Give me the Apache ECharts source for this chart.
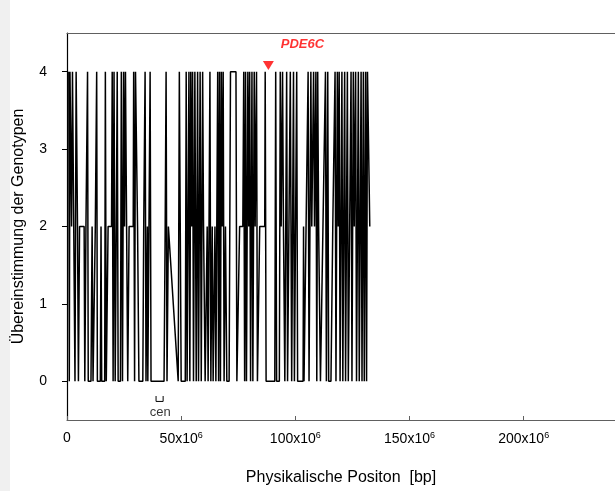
<!DOCTYPE html>
<html>
<head>
<meta charset="utf-8">
<script src="https://cdn.jsdelivr.net/npm/echarts@6/dist/echarts.min.js"></script>
<style>
  html, body { margin: 0; padding: 0; background: #fff; }
  #chart { width: 615px; height: 491px; }
</style>
</head>
<body>
<div id="chart"></div>
<script>
// Position in Mb (x10^6 bp) and agreement of genotypes
var posMb = [
  0.8, 1.0, 1.3, 1.8, 2.0, 2.4, 3.2, 3.5, 4.0, 4.4, 4.6, 5.0, 5.5, 7.5, 7.8, 8.3, 9.0, 9.3, 10.5, 11.0,
  11.4, 12.0, 12.4, 13.0, 13.3, 14.6, 14.9, 15.2, 16.5, 16.8, 17.2, 18.0, 19.5, 19.8, 20.2, 20.6, 21.1, 21.6, 22.0, 22.4,
  23.4, 23.8, 24.3, 24.8, 25.2, 25.6, 26.2, 26.6, 27.2, 29.0, 29.2, 29.6, 30.0, 30.6, 30.9, 31.5, 33.2, 33.6, 34.2, 34.6,
  35.2, 35.4, 36.4, 36.8, 37.5, 42.5, 43.0, 43.4, 43.8, 44.4, 45.0, 48.7, 49.2, 49.6, 50.0, 51.8, 52.2, 52.6, 53.0, 53.4,
  53.8, 54.2, 54.6, 55.0, 55.4, 56.0, 56.3, 56.6, 57.2, 57.6, 58.3, 58.8, 59.4, 59.8, 60.5, 61.4, 61.8, 62.6, 63.0, 63.6,
  64.0, 64.8, 65.2, 66.0, 66.4, 66.8, 67.2, 67.6, 68.0, 68.4, 68.8, 69.4, 70.0, 71.0, 71.6, 74.0, 74.4, 75.0, 75.6, 77.0,
  77.4, 77.8, 78.2, 78.6, 79.2, 79.6, 80.0, 80.4, 81.0, 81.4, 82.0, 82.4, 83.0, 83.4, 84.0, 84.4, 86.6, 86.8, 87.2, 91.0,
  91.4, 91.8, 93.0, 93.4, 93.8, 94.4, 94.8, 95.4, 96.2, 96.6, 97.4, 97.8, 98.4, 99.2, 99.6, 100.6, 101.0, 103.4, 103.6, 103.8,
  105.6, 106.0, 106.8, 107.2, 108.0, 108.4, 109.0, 109.4, 109.8, 110.2, 111.0, 113.2, 113.6, 114.2, 114.6, 115.6, 116.4, 117.4, 117.8, 118.4,
  118.8, 119.2, 119.6, 120.4, 120.8, 121.6, 122.0, 122.8, 123.2, 124.0, 124.4, 124.8, 125.4, 125.8, 126.4, 126.8, 127.6, 128.0, 128.8, 129.2,
  129.8, 130.2, 130.8, 131.2, 131.6, 132.6
];
var agreement = [
  4, 0, 4, 4, 2, 4, 4, 0, 4, 4, 2, 0, 2, 2, 0, 2, 4, 0, 0, 2,
  0, 0, 2, 4, 0, 0, 2, 0, 0, 4, 0, 2, 2, 4, 0, 4, 0, 2, 4, 0,
  0, 4, 0, 4, 2, 4, 4, 0, 2, 2, 4, 0, 4, 4, 2, 0, 0, 2, 4, 0,
  2, 0, 4, 0, 0, 0, 2, 4, 0, 2, 2, 0, 4, 2, 0, 0, 4, 0, 2, 4,
  0, 4, 2, 4, 0, 4, 2, 0, 4, 0, 4, 0, 4, 2, 0, 2, 0, 4, 0, 2,
  0, 2, 0, 4, 0, 4, 0, 4, 2, 4, 0, 2, 0, 0, 4, 4, 0, 0, 2, 2,
  4, 0, 4, 0, 4, 2, 4, 0, 4, 0, 4, 2, 4, 0, 0, 2, 2, 4, 0, 0,
  4, 0, 0, 4, 2, 4, 2, 0, 4, 0, 0, 4, 0, 4, 0, 4, 0, 0, 2, 0,
  4, 0, 4, 2, 4, 2, 4, 0, 4, 2, 0, 4, 0, 4, 0, 0, 2, 4, 0, 4,
  2, 4, 0, 4, 0, 4, 0, 4, 0, 0, 4, 0, 4, 2, 4, 0, 4, 0, 4, 0,
  4, 0, 4, 0, 4, 2
];
var xTicks = [0, 50, 100, 150, 200];
var yTicks = [0, 1, 2, 3, 4];
// gene marker and centromere annotation
var geneName = 'PDE6C';
var genePos = [88.2, 4.08];
var cenX = [39.0, 39.0, 42.1, 42.1];
var cenY = [-0.19, -0.26, -0.26, -0.19];
var cenLabelPos = [40.8, -0.4];

var font = 'Arial, "Liberation Sans", sans-serif';

var lineData = posMb.map(function (x, i) { return [x, agreement[i]]; });
var cenData = cenX.map(function (x, i) { return [x, cenY[i]]; });

var chart = echarts.init(document.getElementById('chart'));
chart.setOption({
  animation: false,
  backgroundColor: '#fff',
  textStyle: { fontFamily: font },
  graphic: [{
    type: 'rect', left: 0, top: 0, shape: { width: 10, height: 491 },
    style: { fill: '#f0f0f0' }, silent: true
  }],
  grid: { left: 67, right: 0, top: 33, bottom: 69 },
  xAxis: [{
    type: 'value', min: 0, max: 240,
    name: 'Physikalische Positon  [bp]', nameLocation: 'middle', nameGap: 50,
    nameTextStyle: { fontSize: 16, color: '#000', fontFamily: font },
    axisLine: { onZero: false, lineStyle: { color: '#606060', width: 1.2 } },
    axisTick: { inside: true, length: 4, customValues: xTicks, lineStyle: { color: '#606060' } },
    splitLine: { show: false },
    axisLabel: {
      customValues: xTicks, margin: 11, color: '#000', fontSize: 14,
      formatter: function (v) { return v === 0 ? '{a|0}' : '{a|' + v + 'x10}{b|6}'; },
      rich: {
        a: { fontSize: 14, color: '#000', fontFamily: font },
        b: { fontSize: 9, color: '#000', fontFamily: font, padding: [0, 0, 7, 0] }
      }
    }
  }, {
    type: 'value', position: 'top', min: 0, max: 240,
    axisLine: { onZero: false, lineStyle: { color: '#606060', width: 1.2 } },
    axisTick: { show: false }, axisLabel: { show: false }, splitLine: { show: false }
  }],
  yAxis: {
    type: 'value', min: -0.5, max: 4.5,
    name: 'Übereinstimmung der Genotypen', nameLocation: 'middle', nameGap: 40,
    nameTextStyle: { fontSize: 16, color: '#000', fontFamily: font },
    axisLine: { show: true, onZero: false, lineStyle: { color: '#000', width: 1.2 } },
    axisTick: { show: true, length: 5, customValues: yTicks, lineStyle: { color: '#000' } },
    splitLine: { show: false },
    axisLabel: { customValues: yTicks, margin: 20, color: '#000', fontSize: 14, fontFamily: font }
  },
  series: [{
    type: 'line', data: lineData, showSymbol: false, symbol: 'none',
    lineStyle: { color: '#000', width: 1.5 }, silent: true
  }, {
    type: 'line', data: cenData, showSymbol: false, symbol: 'none',
    lineStyle: { color: '#000', width: 1 }, silent: true
  }, {
    type: 'scatter', data: [cenLabelPos], symbolSize: 0,
    label: { show: true, position: 'inside', formatter: 'cen', color: '#000', fontSize: 13, fontFamily: font }
  }, {
    type: 'scatter', data: [genePos], symbol: 'triangle', symbolRotate: 180, symbolSize: [11, 9],
    itemStyle: { color: '#ff0000' },
    label: {
      show: true, position: 'inside', offset: [34, -21], formatter: geneName,
      color: '#ff0000', fontSize: 13, fontWeight: 'bold', fontStyle: 'italic', fontFamily: font
    }
  }]
});
</script>
</body>
</html>
